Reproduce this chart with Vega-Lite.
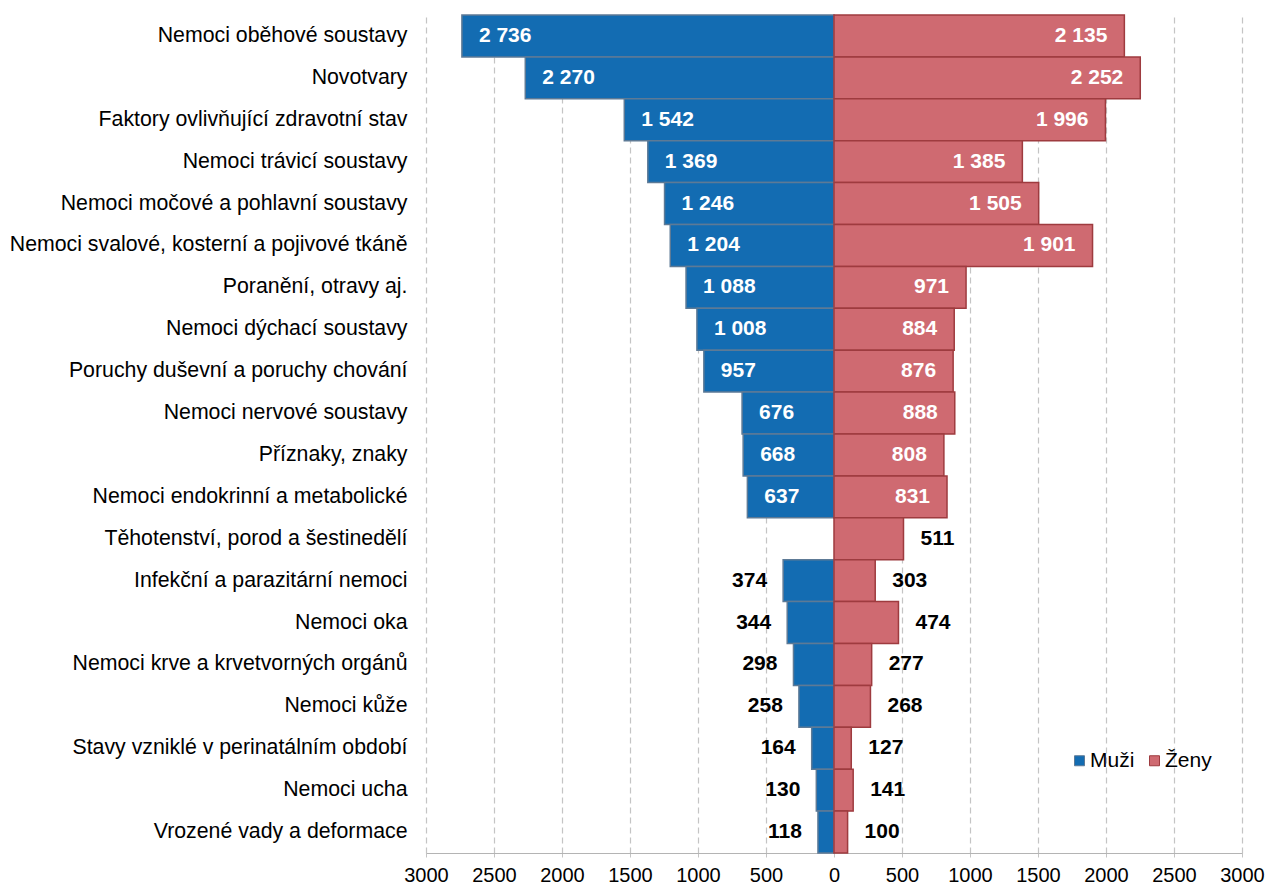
{
  "$schema": "https://vega.github.io/schema/vega-lite/v6.json",
  "width": 816,
  "height": 838,
  "autosize": {"type": "none"},
  "padding": {"left": 426, "top": 15, "right": 25, "bottom": 34},
  "background": "white",
  "config": {"view": {"stroke": null}, "font": "Liberation Sans"},
  "data": {"values": [
    {"cat": "Nemoci oběhové soustavy", "sex": "Muži", "value": 2736},
    {"cat": "Nemoci oběhové soustavy", "sex": "Ženy", "value": 2135},
    {"cat": "Novotvary", "sex": "Muži", "value": 2270},
    {"cat": "Novotvary", "sex": "Ženy", "value": 2252},
    {"cat": "Faktory ovlivňující zdravotní stav", "sex": "Muži", "value": 1542},
    {"cat": "Faktory ovlivňující zdravotní stav", "sex": "Ženy", "value": 1996},
    {"cat": "Nemoci trávicí soustavy", "sex": "Muži", "value": 1369},
    {"cat": "Nemoci trávicí soustavy", "sex": "Ženy", "value": 1385},
    {"cat": "Nemoci močové a pohlavní soustavy", "sex": "Muži", "value": 1246},
    {"cat": "Nemoci močové a pohlavní soustavy", "sex": "Ženy", "value": 1505},
    {"cat": "Nemoci svalové, kosterní a pojivové tkáně", "sex": "Muži", "value": 1204},
    {"cat": "Nemoci svalové, kosterní a pojivové tkáně", "sex": "Ženy", "value": 1901},
    {"cat": "Poranění, otravy aj.", "sex": "Muži", "value": 1088},
    {"cat": "Poranění, otravy aj.", "sex": "Ženy", "value": 971},
    {"cat": "Nemoci dýchací soustavy", "sex": "Muži", "value": 1008},
    {"cat": "Nemoci dýchací soustavy", "sex": "Ženy", "value": 884},
    {"cat": "Poruchy duševní a poruchy chování", "sex": "Muži", "value": 957},
    {"cat": "Poruchy duševní a poruchy chování", "sex": "Ženy", "value": 876},
    {"cat": "Nemoci nervové soustavy", "sex": "Muži", "value": 676},
    {"cat": "Nemoci nervové soustavy", "sex": "Ženy", "value": 888},
    {"cat": "Příznaky, znaky", "sex": "Muži", "value": 668},
    {"cat": "Příznaky, znaky", "sex": "Ženy", "value": 808},
    {"cat": "Nemoci endokrinní a metabolické", "sex": "Muži", "value": 637},
    {"cat": "Nemoci endokrinní a metabolické", "sex": "Ženy", "value": 831},
    {"cat": "Těhotenství, porod a šestinedělí", "sex": "Ženy", "value": 511},
    {"cat": "Infekční a parazitární nemoci", "sex": "Muži", "value": 374},
    {"cat": "Infekční a parazitární nemoci", "sex": "Ženy", "value": 303},
    {"cat": "Nemoci oka", "sex": "Muži", "value": 344},
    {"cat": "Nemoci oka", "sex": "Ženy", "value": 474},
    {"cat": "Nemoci krve a krvetvorných orgánů", "sex": "Muži", "value": 298},
    {"cat": "Nemoci krve a krvetvorných orgánů", "sex": "Ženy", "value": 277},
    {"cat": "Nemoci kůže", "sex": "Muži", "value": 258},
    {"cat": "Nemoci kůže", "sex": "Ženy", "value": 268},
    {"cat": "Stavy vzniklé v perinatálním období", "sex": "Muži", "value": 164},
    {"cat": "Stavy vzniklé v perinatálním období", "sex": "Ženy", "value": 127},
    {"cat": "Nemoci ucha", "sex": "Muži", "value": 130},
    {"cat": "Nemoci ucha", "sex": "Ženy", "value": 141},
    {"cat": "Vrozené vady a deformace", "sex": "Muži", "value": 118},
    {"cat": "Vrozené vady a deformace", "sex": "Ženy", "value": 100}
  ]},
  "transform": [
    {"calculate": "datum.sex === 'Muži' ? -datum.value : datum.value", "as": "xv"},
    {"calculate": "replace(format(datum.value, ','), ',', ' ')", "as": "label"}
  ],
  "encoding": {
    "y": {
      "field": "cat", "type": "nominal", "sort": null,
      "scale": {"paddingInner": 0, "paddingOuter": 0},
      "axis": {"title": null, "domain": false, "ticks": false, "grid": false, "labelFontSize": 21.3, "labelColor": "#000000", "labelPadding": 19, "labelLimit": 500}
    }
  },
  "layer": [
    {
      "mark": {"type": "bar", "strokeWidth": 1.5},
      "encoding": {
        "x": {
          "field": "xv", "type": "quantitative",
          "scale": {"domain": [-3000, 3000], "nice": false, "zero": true},
          "axis": {
            "title": null,
            "values": [-3000, -2500, -2000, -1500, -1000, -500, 0, 500, 1000, 1500, 2000, 2500, 3000],
            "labelExpr": "abs(datum.value)",
            "labelOverlap": false, "labelFlush": false, "labelBound": false,
            "grid": true, "gridDash": [6, 4], "gridColor": "#c4c4c4", "gridWidth": 1.2,
            "domainColor": "#b4b4b4", "domainWidth": 1.2,
            "ticks": true, "tickSize": 4, "tickColor": "#c4c4c4", "tickDash": [4, 2],
            "labelFontSize": 20, "labelColor": "#000000", "labelPadding": 8
          }
        },
        "fill": {
          "field": "sex", "type": "nominal",
          "scale": {"domain": ["Muži", "Ženy"], "range": ["#136cb2", "#cf6a71"]},
          "legend": {
            "title": null, "orient": "none", "legendX": 643, "legendY": 735,
            "direction": "horizontal", "symbolType": "square", "symbolSize": 100,
            "labelFontSize": 21, "labelColor": "#000000", "labelOffset": 0, "columnPadding": 9,
            "symbolStrokeWidth": 1,
            "encode": {"symbols": {"update": {"stroke": {"signal": "datum.value === 'Muži' ? '#5d7a96' : '#9e3b3f'"}}}}
          }
        },
        "stroke": {
          "field": "sex", "type": "nominal",
          "scale": {"domain": ["Muži", "Ženy"], "range": ["#5d7a96", "#9e3b3f"]},
          "legend": null
        }
      }
    },
    {
      "transform": [{"filter": "datum.sex === 'Muži' && datum.value >= 600"}],
      "mark": {"type": "text", "align": "left", "baseline": "middle", "dx": 17, "fontSize": 21, "fontWeight": "bold", "fill": "#ffffff"},
      "encoding": {"x": {"field": "xv", "type": "quantitative"}, "text": {"field": "label"}}
    },
    {
      "transform": [{"filter": "datum.sex === 'Muži' && datum.value < 600"}],
      "mark": {"type": "text", "align": "right", "baseline": "middle", "dx": -16, "fontSize": 21, "fontWeight": "bold", "fill": "#000000"},
      "encoding": {"x": {"field": "xv", "type": "quantitative"}, "text": {"field": "label"}}
    },
    {
      "transform": [{"filter": "datum.sex === 'Ženy' && datum.value >= 600"}],
      "mark": {"type": "text", "align": "right", "baseline": "middle", "dx": -17, "fontSize": 21, "fontWeight": "bold", "fill": "#ffffff"},
      "encoding": {"x": {"field": "xv", "type": "quantitative"}, "text": {"field": "label"}}
    },
    {
      "transform": [{"filter": "datum.sex === 'Ženy' && datum.value < 600"}],
      "mark": {"type": "text", "align": "left", "baseline": "middle", "dx": 17, "fontSize": 21, "fontWeight": "bold", "fill": "#000000"},
      "encoding": {"x": {"field": "xv", "type": "quantitative"}, "text": {"field": "label"}}
    }
  ]
}
